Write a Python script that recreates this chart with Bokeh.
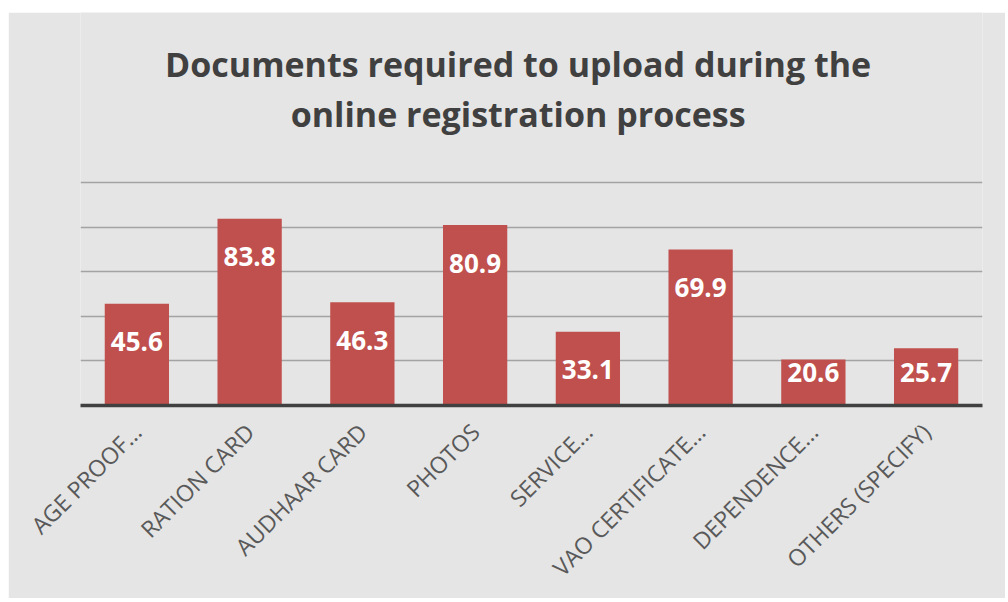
import numpy as np
from bokeh.plotting import figure
from bokeh.layouts import column, row
from bokeh.models import ColumnDataSource, Range1d, FixedTicker, Spacer
from bokeh.core.properties import value
from bokeh.embed import file_html
from bokeh.resources import INLINE

title_lines = ["Documents required to upload during the", "online registration process"]
categories = ["AGE PROOF...", "RATION CARD", "AUDHAAR CARD", "PHOTOS",
              "SERVICE...", "VAO CERTIFICATE...", "DEPENDENCE...", "OTHERS (SPECIFY)"]
values = [45.6, 83.8, 46.3, 80.9, 33.1, 69.9, 20.6, 25.7]
grid_ticks = [20, 40, 60, 80, 100]

vals = np.array(values)
src = ColumnDataSource(dict(
    cat=categories,
    val=values,
    lab=[f"{v:.1f}" for v in values],
    laby=list(np.maximum(vals - 17, 15)),
))

W, H = 997, 586
BL, BR, BB = 72, 23, 193
FH = H - BB                      # frame spans from the top of the figure to the baseline
PX_PER_UNIT = 223 / 100          # 0..100 occupies 223 px
YMAX = FH / PX_PER_UNIT

BG = "#e5e5e5"
p = figure(x_range=categories, y_range=Range1d(0, YMAX),
           width=W, height=H, output_backend="svg", toolbar_location=None,
           min_border_left=BL, min_border_right=BR, min_border_bottom=BB,
           min_border_top=0)
p.title = None
p.background_fill_color = BG
p.border_fill_color = BG
p.outline_line_color = None

# title (two centred lines) drawn as text in the upper part of the frame
title_src = ColumnDataSource(dict(
    x=["PHOTOS", "PHOTOS"],
    y=[(FH - 51) / PX_PER_UNIT, (FH - 101) / PX_PER_UNIT],
    t=title_lines,
))
p.text(x="x", y="y", text="t", source=title_src, x_offset=43,
       text_align="center", text_baseline="alphabetic",
       text_font=value("Open Sans"), text_font_size="34px",
       text_font_style="bold", text_color="#404040")

p.vbar(x="cat", top="val", width=0.57, source=src, fill_color="#c0504d",
       line_color=None)
p.text(x="cat", y="laby", text="lab", source=src, text_color="white",
       text_font=value("Open Sans"), text_font_size="26px", text_font_style="bold",
       text_align="center", text_baseline="middle")

p.yaxis.visible = False
p.ygrid.ticker = FixedTicker(ticks=grid_ticks)
p.ygrid.grid_line_color = "#a3a3a3"
p.ygrid.grid_line_width = 1.6
p.xgrid.grid_line_color = None

ax = p.xaxis[0]
ax.axis_line_color = "#404040"
ax.axis_line_width = 3.5
ax.major_tick_line_color = None
ax.minor_tick_line_color = None
ax.major_label_orientation = np.pi / 4
ax.major_label_text_font = "Open Sans"
ax.major_label_text_font_size = "23px"
ax.major_label_text_color = "#595959"
ax.major_label_standoff = 16
p.x_range.range_padding = 0

layout = column(Spacer(height=12, width=1005),
                row(Spacer(width=8, height=H), p))
open("out.html", "w").write(file_html(layout, INLINE))
